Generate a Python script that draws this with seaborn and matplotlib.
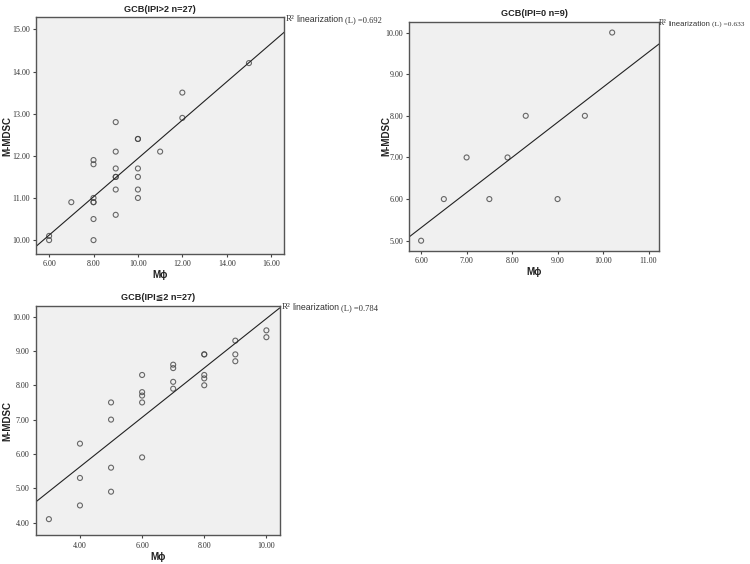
import matplotlib
matplotlib.use("Agg")
import matplotlib.pyplot as plt
import seaborn as sns
import numpy as np
import pandas as pd

# ---- data ----
p1_x = [6, 6, 7, 8, 8, 8, 8, 8, 8, 8, 9, 9, 9, 9, 9, 9, 9, 10, 10, 10, 10, 10, 10, 11, 12, 12, 15]
p1_y = [10.1, 10.0, 10.9, 11.9, 11.8, 11.0, 10.9, 10.9, 10.5, 10.0, 12.8, 12.1, 11.7, 11.5, 11.5, 11.2, 10.6,
        12.4, 12.4, 11.7, 11.5, 11.2, 11.0, 12.1, 13.5, 12.9, 14.2]
p2_x = [6, 6.5, 7, 7.5, 7.9, 8.3, 9, 9.6, 10.2]
p2_y = [5, 6, 7, 6, 7, 8, 6, 8, 10]
p3_x = [3, 4, 4, 4, 5, 5, 5, 5, 6, 6, 6, 6, 6, 7, 7, 7, 7, 8, 8, 8, 8, 8, 9, 9, 9, 10, 10]
p3_y = [4.1, 6.3, 5.3, 4.5, 7.5, 7.0, 5.6, 4.9, 8.3, 7.8, 7.7, 7.5, 5.9, 8.6, 8.5, 8.1, 7.9,
        8.9, 8.9, 8.3, 8.2, 8.0, 9.3, 8.9, 8.7, 9.6, 9.4]

titles = ["GCB(IPI>2 n=27)", "GCB(IPI=0 n=9)", "GCB(IPI\u22662 n=27)"]
r2_labels = ["0.692", "0.633", "0.784"]
xlabel = "M\u03d5"
ylabel = "M-MDSC"

sns.set_theme(style="white")
plt.rcParams['font.family'] = ['Liberation Sans', 'DejaVu Sans', 'Noto Sans CJK SC']

W, H = 750, 564
fig = plt.figure(figsize=(7.5, 5.64), dpi=100)

def fx(px):
    return px / W

def fy(py):
    return 1 - py / H

panels = [
    dict(x=p1_x, y=p1_y, rect=[0.048, 0.5496, 0.331, 0.420], xlim=(5.41, 16.59), ylim=(9.67, 15.29),
         xticks=np.arange(6, 17, 2), yticks=np.arange(10, 16, 1),
         ylab=-0.097, title_y=10, r2=(286, 20), r2fs=6.3),
    dict(x=p2_x, y=p2_y, rect=[0.5457, 0.5555, 0.333, 0.406], xlim=(5.74, 11.23), ylim=(4.76, 10.26),
         xticks=np.arange(6, 12, 1), yticks=np.arange(5, 11, 1),
         ylab=-0.073, title_y=13, r2=(659, 24), r2fs=5.6),
    dict(x=p3_x, y=p3_y, rect=[0.048, 0.0509, 0.325, 0.4066], xlim=(2.585, 10.43), ylim=(3.63, 10.31),
         xticks=np.arange(4, 11, 2), yticks=np.arange(4, 11, 1),
         ylab=-0.098, title_y=297, r2=(282, 308), r2fs=6.3),
]

r2_texts = []
for i, p in enumerate(panels):
    ax = fig.add_axes(p["rect"])
    ax.set_facecolor("#f0f0f0")
    ax.set_xlim(*p["xlim"])
    ax.set_ylim(*p["ylim"])
    df = pd.DataFrame({"x": p["x"], "y": p["y"]})
    sns.regplot(data=df, x="x", y="y", ax=ax, ci=None, truncate=False,
                scatter_kws=dict(s=13, facecolors="none", edgecolors="#444444", linewidths=0.8),
                line_kws=dict(color="#222222", linewidth=0.8))
    ax.set_xlim(*p["xlim"])
    ax.set_ylim(*p["ylim"])
    ax.set_xticks(p["xticks"])
    ax.set_yticks(p["yticks"])
    ax.set_xticklabels([f"{v:.2f}" for v in p["xticks"]], family="Liberation Serif", fontsize=5.8, color="#333333")
    ax.set_yticklabels([f"{v:.2f}" for v in p["yticks"]], family="Liberation Serif", fontsize=5.8, color="#333333")
    ax.tick_params(axis="both", which="both", direction="out", length=2.5, width=0.8, color="#444444", pad=2,
                   bottom=True, left=True)
    for s in ax.spines.values():
        s.set_color("#555555")
        s.set_linewidth(1.0)
    ax.set_xlabel(xlabel, fontsize=7, fontweight="bold", labelpad=1.5, color="#222222")
    ax.set_ylabel(ylabel, fontsize=7, fontweight="bold", color="#222222")
    ax.yaxis.set_label_coords(p["ylab"], 0.5)
    # title
    left, bottom, width, height = p["rect"]
    fig.text(left + width / 2, fy(p["title_y"]), titles[i], fontsize=6.6, fontweight="bold",
             ha="center", va="center", color="#222222")
    # R^2 annotation pieces (placed side by side below)
    xr, yy = p["r2"]
    fs = p["r2fs"]
    t1 = fig.text(fx(xr), fy(yy - 1), "R\u00b2", fontsize=fs + 0.3, family="Liberation Serif",
                  va="center", ha="left", color="#333333")
    t2 = fig.text(fx(xr), fy(yy), "linearization", fontsize=fs, va="center", ha="left", color="#333333")
    t3 = fig.text(fx(xr), fy(yy), "(L) =" + r2_labels[i], fontsize=fs - 0.2,
                  family="Liberation Serif", va="center", ha="left", color="#333333")
    r2_texts.append((t1, t2, t3))

fig.canvas.draw()
renderer = fig.canvas.get_renderer()
for t1, t2, t3 in r2_texts:
    b1 = t1.get_window_extent(renderer)
    x2 = b1.x1 + 1.5
    t2.set_x(x2 / W)
    fig.canvas.draw()
    b2 = t2.get_window_extent(renderer)
    t3.set_x((b2.x1 + 1.5) / W)

fig.savefig("out.png", dpi=100, facecolor="white")
